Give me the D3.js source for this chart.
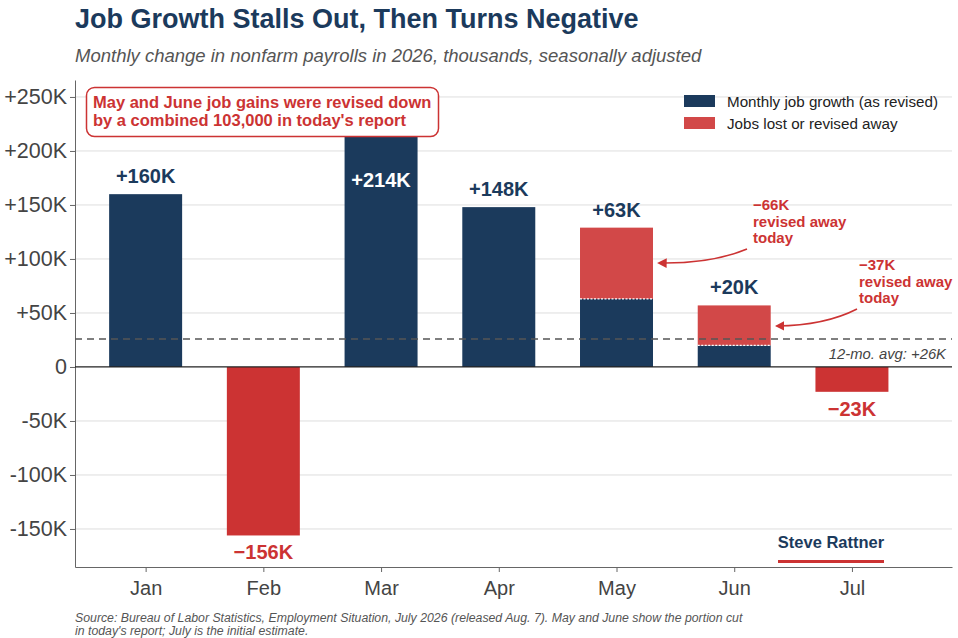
<!DOCTYPE html>
<html>
<head>
<meta charset="utf-8">
<script src="https://cdn.jsdelivr.net/npm/d3@7"></script>
<style>
  body { margin: 0; background: #fff; }
  text { font-family: "Liberation Sans", Arial, sans-serif; }
</style>
</head>
<body>
<script>
// Data (thousands)
const months = ["Jan", "Feb", "Mar", "Apr", "May", "Jun", "Jul"];
const revisedGrowth = [160, -156, 214, 148, 63, 20, -23];
const revisedAway = [0, 0, 0, 0, 66, 37, 0];
const yTicks = [-150, -100, -50, 0, 50, 100, 150, 200, 250];
const avg12mo = 26;

const width = 958, height = 638;
const navy = "#1b3a5c", red = "#cc3333", redSoft = "#d24848";

const svg = d3.select("body").append("svg")
  .attr("width", width).attr("height", height);

const x = d3.scaleLinear().domain([-0.6, 6.85]).range([75, 952]);
const y = d3.scaleLinear().domain([-185.2, 265.7]).range([567, 80]);
const barW = x(0.62) - x(0);

// Title + subtitle
svg.append("text").attr("x", 75).attr("y", 28)
  .style("font-size", "27px").style("font-weight", "bold").attr("fill", navy)
  .text("Job Growth Stalls Out, Then Turns Negative");
svg.append("text").attr("x", 75).attr("y", 62)
  .style("font-size", "18.5px").style("font-style", "italic").attr("fill", "#555")
  .text("Monthly change in nonfarm payrolls in 2026, thousands, seasonally adjusted");

// Gridlines
svg.append("g").selectAll("line").data(yTicks.filter(d => d !== 0)).join("line")
  .attr("x1", 75).attr("x2", 952)
  .attr("y1", d => y(d)).attr("y2", d => y(d))
  .attr("stroke", "#dedede").attr("stroke-width", 1);

// Y axis
const yAxis = svg.append("g").attr("transform", "translate(75,0)")
  .call(d3.axisLeft(y).tickValues(yTicks).tickSize(5).tickSizeOuter(0).tickPadding(3)
    .tickFormat(d => d === 0 ? "0" : (d > 0 ? "+" : "-") + Math.abs(d) + "K"));
yAxis.select(".domain").attr("stroke", "#666");
yAxis.selectAll(".tick line").attr("stroke", "#666");
yAxis.selectAll(".tick text").style("font-size", "21.5px").attr("fill", "#444")
  .style("font-family", "Liberation Sans, Arial, sans-serif");

// X axis
const xAxis = svg.append("g").attr("transform", "translate(0,567)")
  .call(d3.axisBottom(x).tickValues(d3.range(months.length)).tickSize(5).tickSizeOuter(0).tickPadding(9)
    .tickFormat(i => months[i]));
xAxis.select(".domain").attr("stroke", "#666");
xAxis.selectAll(".tick line").attr("stroke", "#666");
xAxis.selectAll(".tick text").style("font-size", "20px").attr("fill", "#444")
  .style("font-family", "Liberation Sans, Arial, sans-serif");

// Bars: revised growth
svg.append("g").selectAll("rect").data(revisedGrowth).join("rect")
  .attr("x", (d, i) => x(i) - barW / 2)
  .attr("width", barW)
  .attr("y", d => y(Math.max(0, d)))
  .attr("height", d => Math.abs(y(d) - y(0)))
  .attr("fill", d => d >= 0 ? navy : red);

// Bars: revised away (stacked on top)
const stackData = months.map((m, i) => ({ i, base: revisedGrowth[i], v: revisedAway[i] }))
  .filter(d => d.v > 0);
svg.append("g").selectAll("rect").data(stackData).join("rect")
  .attr("x", d => x(d.i) - barW / 2)
  .attr("width", barW)
  .attr("y", d => y(d.base + d.v))
  .attr("height", d => y(d.base) - y(d.base + d.v))
  .attr("fill", redSoft);
svg.append("g").selectAll("line").data(stackData).join("line")
  .attr("x1", d => x(d.i) - barW / 2).attr("x2", d => x(d.i) + barW / 2)
  .attr("y1", d => y(d.base)).attr("y2", d => y(d.base))
  .attr("stroke", "#fff").attr("stroke-width", 1.2).attr("stroke-dasharray", "2,1.5");

// Zero line
svg.append("line").attr("x1", 75).attr("x2", 952)
  .attr("y1", y(0)).attr("y2", y(0)).attr("stroke", "#222").attr("stroke-width", 1.2);

// 12-month average
svg.append("line").attr("x1", 75).attr("x2", 952)
  .attr("y1", y(avg12mo)).attr("y2", y(avg12mo))
  .attr("stroke", "#555").attr("stroke-width", 1.5).attr("stroke-dasharray", "7,5");
svg.append("text").attr("x", 946).attr("y", y(avg12mo) + 20)
  .attr("text-anchor", "end").style("font-size", "14.8px").style("font-style", "italic")
  .attr("fill", "#444").text("12-mo. avg: +" + avg12mo + "K");

// Value labels
const fmt = d => (d > 0 ? "+" : "\u2212") + Math.abs(d) + "K";
svg.append("g").selectAll("text").data(revisedGrowth).join("text")
  .attr("x", (d, i) => x(i))
  .attr("y", (d, i) => {
    if (d < 0) return y(d) + 24;
    if (i === 2) return y(d) + 51;
    return y(d + revisedAway[i]) - 11;
  })
  .attr("text-anchor", "middle")
  .style("font-size", "20px").style("font-weight", "bold")
  .attr("fill", (d, i) => d < 0 ? red : (i === 2 ? "#fff" : navy))
  .text(d => fmt(d));

// Callout box
const box = svg.append("g");
box.append("rect").attr("x", 86.5).attr("y", 87.5).attr("width", 352).attr("height", 49)
  .attr("rx", 8).attr("fill", "#fff").attr("stroke", red).attr("stroke-width", 1.5);
box.append("text").attr("x", 93).attr("y", 108)
  .style("font-size", "16.5px").style("font-weight", "bold").attr("fill", red)
  .text("May and June job gains were revised down");
box.append("text").attr("x", 93).attr("y", 126)
  .style("font-size", "16.5px").style("font-weight", "bold").attr("fill", red)
  .text("by a combined 103,000 in today's report");

// Legend
const legendItems = [
  { label: "Monthly job growth (as revised)", color: navy },
  { label: "Jobs lost or revised away", color: redSoft }
];
const lg = svg.append("g").selectAll("g").data(legendItems).join("g")
  .attr("transform", (d, i) => `translate(684,${95 + i * 22})`);
lg.append("rect").attr("width", 31).attr("height", 12).attr("fill", d => d.color);
lg.append("text").attr("x", 43).attr("y", 11.5)
  .style("font-size", "15.2px").attr("fill", "#222").text(d => d.label);

// Arrow annotations
svg.append("defs").append("marker").attr("id", "arr")
  .attr("viewBox", "0 0 10 10").attr("refX", 8).attr("refY", 5)
  .attr("markerWidth", 6).attr("markerHeight", 6).attr("orient", "auto")
  .append("path").attr("d", "M0,0 L10,5 L0,10 z").attr("fill", red);

const notes = [
  { i: 4, lines: ["\u221266K", "revised away", "today"], tx: 753, ty: 210, from: [747, 249], to: [x(4) + barW / 2 + 6, 263] },
  { i: 5, lines: ["\u221237K", "revised away", "today"], tx: 859, ty: 270, from: [857, 309], to: [x(5) + barW / 2 + 6, 326] }
];
notes.forEach(n => {
  const t = svg.append("text").attr("x", n.tx).attr("y", n.ty)
    .style("font-size", "15px").style("font-weight", "bold").attr("fill", red);
  n.lines.forEach((l, k) => t.append("tspan").attr("x", n.tx).attr("dy", k === 0 ? 0 : 16.5).text(l));
  const [x0, y0] = n.from, [x1, y1] = n.to;
  const cx = (x0 + x1) / 2 + 8, cy = (y0 + y1) / 2 + 8;
  svg.append("path").attr("d", `M${x0},${y0} Q${cx},${cy} ${x1},${y1}`)
    .attr("fill", "none").attr("stroke", red).attr("stroke-width", 1.6)
    .attr("marker-end", "url(#arr)");
});

// Signature
svg.append("text").attr("x", 831).attr("y", 548).attr("text-anchor", "middle")
  .style("font-size", "16.5px").style("font-weight", "bold").attr("fill", navy).text("Steve Rattner");
svg.append("line").attr("x1", 778).attr("x2", 884).attr("y1", 561.5).attr("y2", 561.5)
  .attr("stroke", red).attr("stroke-width", 3);

// Source
svg.append("text").attr("x", 75).attr("y", 622)
  .style("font-size", "12.3px").style("font-style", "italic").attr("fill", "#555")
  .text("Source: Bureau of Labor Statistics, Employment Situation, July 2026 (released Aug. 7). May and June show the portion cut");
svg.append("text").attr("x", 75).attr("y", 635)
  .style("font-size", "12.3px").style("font-style", "italic").attr("fill", "#555")
  .text("in today's report; July is the initial estimate.");
</script>
</body>
</html>
